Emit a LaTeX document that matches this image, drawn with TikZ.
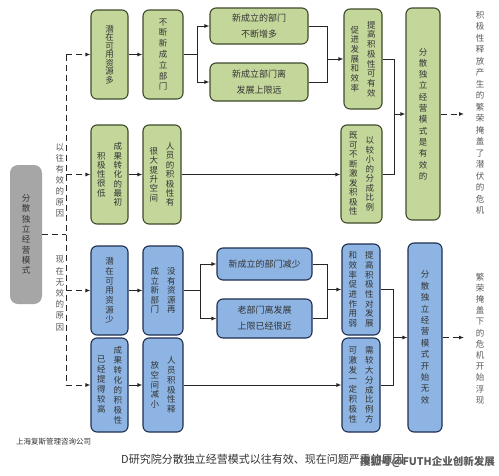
\documentclass[tikz,border=0pt]{standalone}
\usepackage{fontspec}
\setmainfont{Noto Sans CJK SC}
\newfontfamily\cjk{Noto Sans CJK SC}
\usetikzlibrary{arrows.meta}
\definecolor{gfill}{HTML}{C4D79B}
\definecolor{gline}{HTML}{3F4A2C}
\definecolor{bfill}{HTML}{8DB4E2}
\definecolor{bline}{HTML}{1F2F4F}
\definecolor{grayfill}{HTML}{A6A6A6}
\definecolor{txt}{HTML}{333333}
\definecolor{ltxt}{HTML}{5A5A5A}
\definecolor{connc}{HTML}{262626}
\makeatletter
\newcommand\vcol[2][9.7pt]{\vbox{\baselineskip=#1\relax\lineskiplimit=-20pt\@tfor\vc@c:=#2\do{\hbox to 1em{\hss\vc@c\hss}}}}
\makeatother
\newcommand\vone[2][9.7pt]{$\vcenter{\vcol[#1]{#2}}$}
\newcommand\vtwo[3][9.7pt]{$\vcenter{\vcol[#1]{#3}}\kern8pt\vcenter{\vcol[#1]{#2}}$}
\begin{document}
\begin{tikzpicture}[x=1pt,y=-1pt,
  box/.style={rounded corners=6pt, line width=1.1pt, inner sep=0pt, text=txt, font=\cjk\fontsize{8.5}{9.7}\selectfont},
  gbox/.style={box, draw=gline, fill=gfill},
  bbox/.style={box, draw=bline, fill=bfill},
  htext/.style={align=center, font=\cjk\fontsize{9}{16}\selectfont},
  graybox/.style={rounded corners=8pt, fill=grayfill, inner sep=0pt, text=txt, font=\cjk\fontsize{8.5}{10}\selectfont, minimum width=32pt, minimum height=139pt},
  lbl/.style={inner sep=0pt, text=ltxt, font=\cjk\fontsize{8.5}{10}\selectfont},
  conn/.style={line width=1pt, draw=connc},
  arr/.style={conn, -{Latex[length=5pt,width=4pt]}},
  dashln/.style={conn, dash pattern=on 6pt off 4pt},
  dasharr/.style={dashln, -{Latex[length=5pt,width=4pt]}},
]
\useasboundingbox[fill=white] (0,0) rectangle (499,475);

% gray box
\node[graybox] (g) at (26,234.5) {\vone[10.3pt]{分散独立经营模式}};

% labels
\node[lbl] (l1) at (60,180) {\vone[11pt]{以往有效的原因}};
\node[lbl] (l2) at (60,293.5) {\vone[11.2pt]{现在无效的原因}};

% green upper
\node[gbox, minimum width=37pt, minimum height=89pt] (a1) at (109.5,54.5) {\vone[8.5pt]{潜在可用资源多}};
\node[gbox, minimum width=40pt, minimum height=89pt] (a2) at (163,54.5) {\vone[10.8pt]{不断新成立部门}};
\node[gbox, htext, minimum width=98pt, minimum height=36pt] (a3) at (259,26) {新成立的部门\\不断增多};
\node[gbox, htext, minimum width=98pt, minimum height=38pt] (a4) at (259,82) {新成立部门离\\发展上限远};
\node[gbox, minimum width=38pt, minimum height=100pt] (a5) at (363,59) {\vtwo[9.7pt]{提高积极性可有效}{促进发展和效率}};
\node[gbox, minimum width=41pt, minimum height=98pt] (a6) at (361.5,174) {\vtwo[9.5pt]{以较小的分成比例}{既可不断激发积极性}};
\node[gbox, minimum width=34pt, minimum height=212pt] (a7) at (423,114) {\vone[11.3pt]{分散独立经营模式是有效的}};
\node[gbox, minimum width=37pt, minimum height=99pt] (b1) at (109.5,174.5) {\vtwo[9.3pt]{成果转化的最初}{积极性很低}};
\node[gbox, minimum width=38pt, minimum height=99pt] (b2) at (162,174.5) {\vtwo[9.4pt]{人员的积极性有}{很大提升空间}};

% blue lower
\node[bbox, minimum width=37pt, minimum height=89pt] (c1) at (109.5,290.5) {\vone[9.7pt]{潜在可用资源少}};
\node[bbox, minimum width=40pt, minimum height=89pt] (c2) at (163,290.5) {\vtwo[9.5pt]{没有资源再}{成立新部门}};
\node[bbox, htext, minimum width=95pt, minimum height=32pt] (c3) at (264.5,264) {新成立的部门减少};
\node[bbox, htext, minimum width=95pt, minimum height=39pt] (c4) at (264.5,318.5) {老部门离发展\\上限已经很近};
\node[bbox, minimum width=38pt, minimum height=91pt] (c5) at (361,289.5) {\vtwo[9.7pt]{提高积极性对发展}{和效率促进作用弱}};
\node[bbox, minimum width=38pt, minimum height=94pt] (c6) at (361,385) {\vtwo[9.9pt]{需较大分成比例方}{可激发一定积极性}};
\node[bbox, minimum width=34pt, minimum height=189pt] (c7) at (425,337.5) {\vone[11.4pt]{分散独立经营模式开始无效}};
\node[bbox, minimum width=37pt, minimum height=94pt] (d1) at (109.5,385) {\vtwo[10pt]{成果转化的积极性}{已经提得较高}};
\node[bbox, minimum width=40pt, minimum height=94pt] (d2) at (163,385) {\vtwo[9.7pt]{人员积极性释}{放空间减小}};

% right texts
\node[lbl, text=ltxt] (r1) at (480,113) {\vone[11.5pt]{积极性释放产生的繁荣掩盖了潜伏的危机}};
\node[lbl, text=ltxt] (r2) at (480,338.5) {\vone[11.2pt]{繁荣掩盖下的危机开始浮现}};

% coordinates
\coordinate (s0) at (66,234.5);
\coordinate (s1) at (66,54.5);
\coordinate (s2) at (66,174.5);
\coordinate (s3) at (66,290.5);
\coordinate (s4) at (66,385);
\coordinate (j1) at (197,54.5);
\coordinate (j2) at (327,59);
\coordinate (j3) at (394,114);
\coordinate (j4) at (200,290.5);
\coordinate (j5) at (327,289.5);
\coordinate (j6) at (393,337.5);
\coordinate (e1) at (464,114);
\coordinate (e2) at (464,337.5);

% dashed spine
\draw[dashln] (g.east |- s0) -- (s0);
\draw[dashln] (s1) -- (s4);
\draw[dasharr] (s1) -- (a1.west);
\draw[dasharr] (s2) -- (b1.west);
\draw[dasharr] (s3) -- (c1.west);
\draw[dasharr] (s4) -- (d1.west);

% upper connectors
\draw[arr] (a1) -- (a2);
\draw[conn] (a2.east) -- (j1);
\draw[arr] (j1) |- (a3.west);
\draw[arr] (j1) |- (a4.west);
\draw[conn] (a3.east) -| (j2);
\draw[conn] (a4.east) -| (j2);
\draw[arr] (j2) -- (a5.west |- j2);
\draw[conn] (a5.east) -| (j3);
\draw[conn] (a6.east) -| (j3);
\draw[arr] (j3) -- (a7.west |- j3);
\draw[arr] (b1) -- (b2);
\draw[arr] (b2.east) -- (a6.west |- b2.east);
\draw[dasharr] (a7.east |- e1) -- (e1);

% lower connectors
\draw[arr] (c1) -- (c2);
\draw[conn] (c2.east) -- (j4);
\draw[arr] (j4) |- (c3.west);
\draw[arr] (j4) |- (c4.west);
\draw[conn] (c3.east) -| (j5);
\draw[conn] (c4.east) -| (j5);
\draw[arr] (j5) -- (c5.west |- j5);
\draw[conn] (c5.east) -| (j6);
\draw[conn] (c6.east) -| (j6);
\draw[arr] (j6) -- (c7.west |- j6);
\draw[arr] (d1) -- (d2);
\draw[arr] (d2.east) -- (c6.west |- d2.east);
\draw[dasharr] (c7.east |- e2) -- (e2);

% bottom texts
\node[anchor=west, inner sep=0pt, text=txt, font=\cjk\fontsize{7.5}{8}\selectfont] (co) at (16,442) {上海复斯管理咨询公司};
\node[anchor=west, inner sep=0pt, text=txt, font=\cjk\fontsize{11}{12}\selectfont] (cap) at (121,459) {D研究院分散独立经营模式以往有效、现在问题严重的原因};
\node[anchor=west, inner sep=0pt, text=ltxt, font=\cjk\bfseries\fontsize{10.5}{12}\selectfont] (wm) at (360,462) {搜狐号@FUTH企业创新发展};
\end{tikzpicture}
\end{document}
